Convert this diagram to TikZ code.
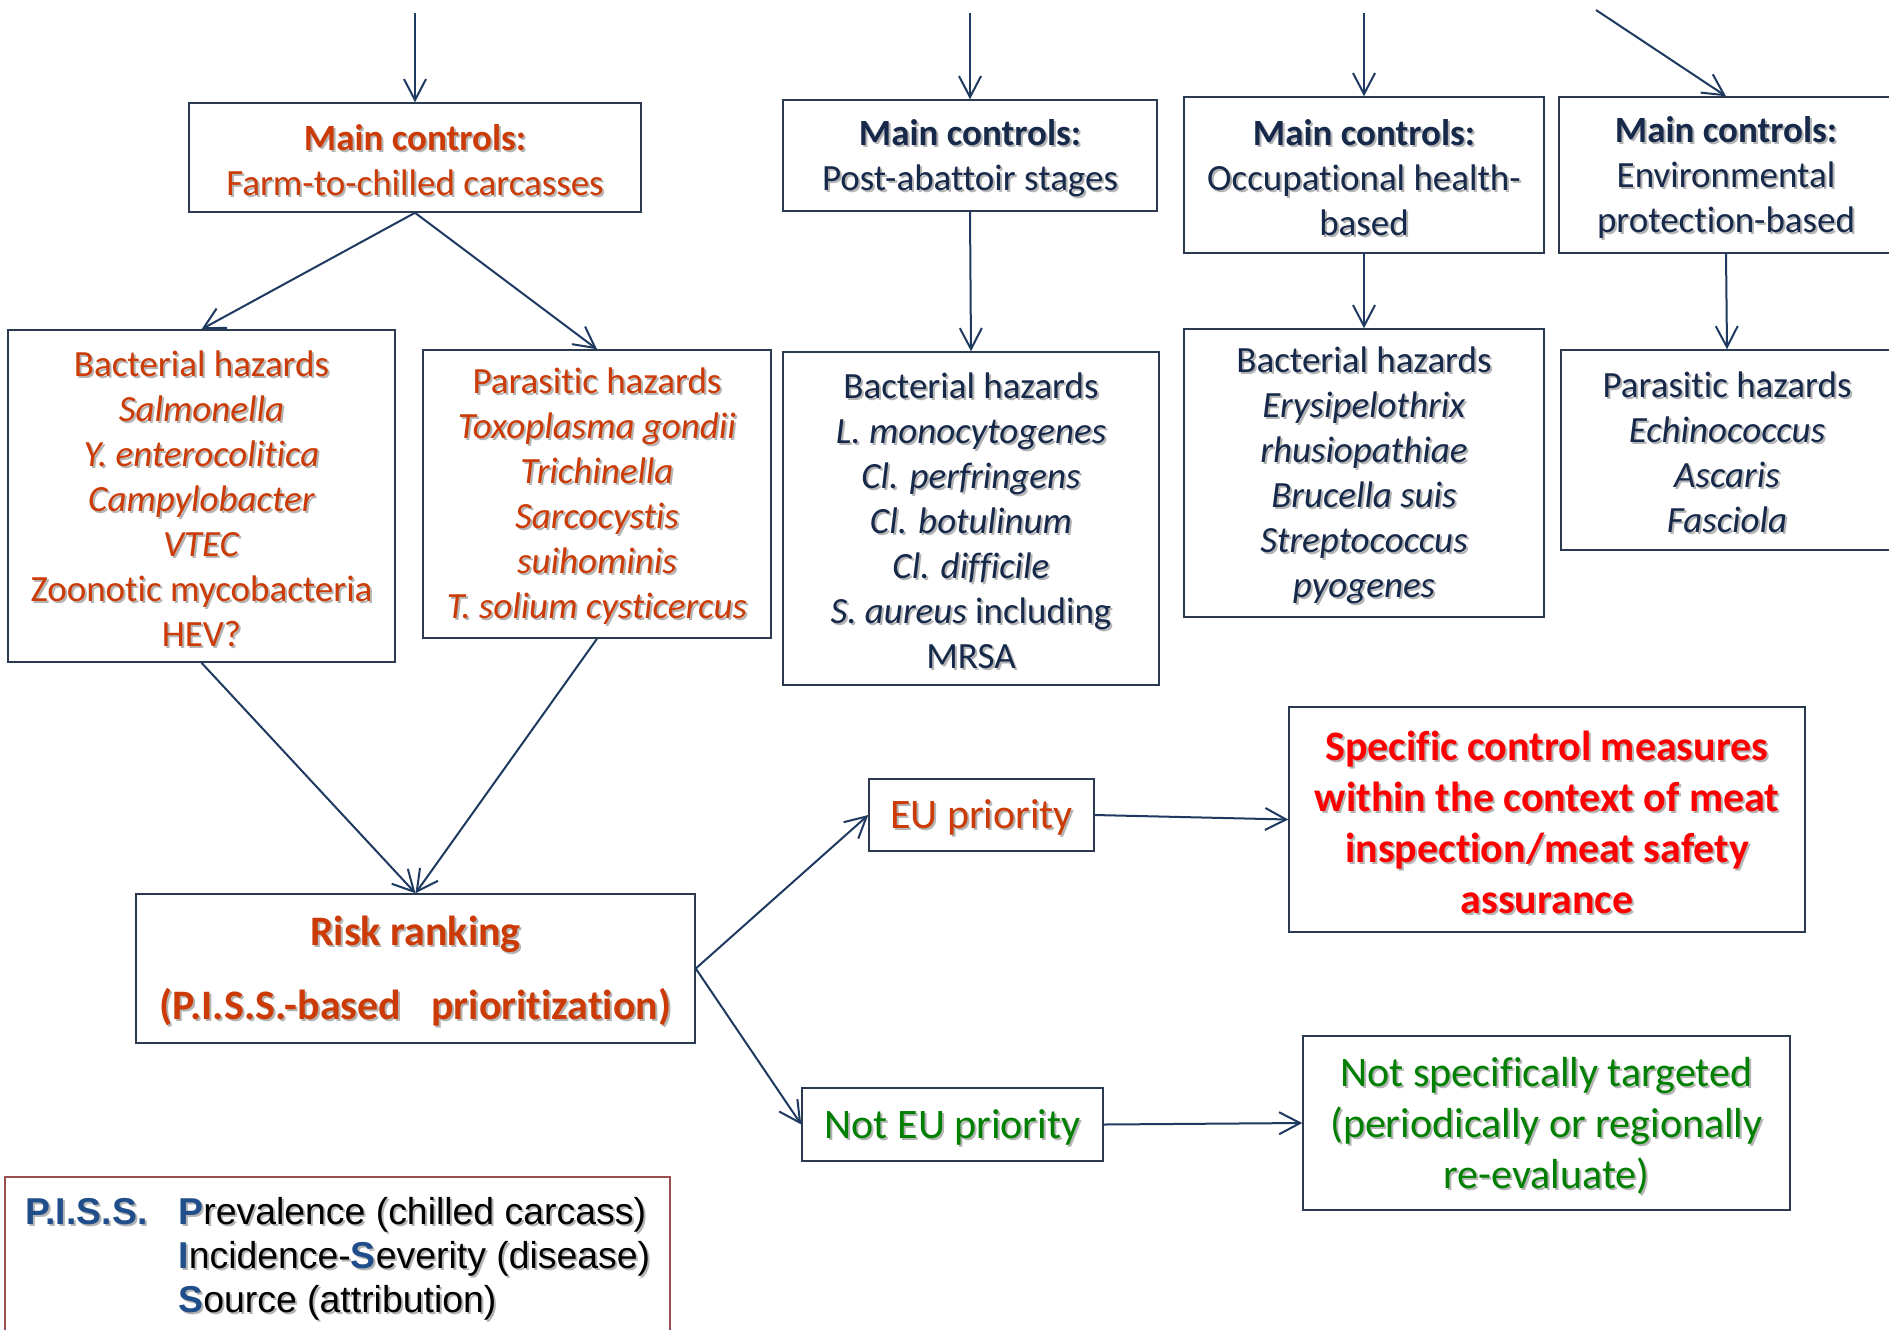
\documentclass[tikz,border=0pt]{standalone}
\usepackage{fontspec}
\setmainfont[Ligatures={NoCommon}]{Carlito}
\newfontfamily\arialfont{Liberation Sans}
\usetikzlibrary{arrows.meta}

\definecolor{hazorange}{HTML}{CC3A06}
\definecolor{navytxt}{HTML}{17294A}
\definecolor{okgreen}{HTML}{008000}
\definecolor{alertred}{HTML}{FF0000}
\definecolor{pissblue}{HTML}{1F4E8A}
\definecolor{arrowcol}{HTML}{1F3A60}
\definecolor{boxline}{HTML}{2B3A50}
\definecolor{pissline}{HTML}{9A5050}
\definecolor{shadowgray}{HTML}{B4B4B4}

% soft drop shadow behind a line of text; the ink sits slightly low in its box
\newif\ifshadow
\newlength\textdrop
\setlength\textdrop{1.8pt}
\newcommand\sh[1]{\raisebox{-\textdrop}[\height][\depth]{%
  \makebox[0pt][l]{\shadowtrue\hspace{1pt}\raisebox{-1pt}{\color{shadowgray}#1}}#1}}
% highlighted initial letter of the P.I.S.S. legend
\newcommand\hl[1]{{\ifshadow\else\color{pissblue}\fi\bfseries #1}}

\tikzset{
  box/.style={draw=boxline, line width=0.75pt, align=center, inner sep=0pt,
              font=\fontsize{18.5}{22.5}\selectfont},
  bigbox/.style={box, font=\fontsize{21}{25.5}\selectfont},
  conn/.style={draw=arrowcol, line width=1pt,
               -{Straight Barb[length=10.5pt,width=11pt,line width=1pt]}},
  legend/.style={inner sep=0pt, anchor=base west,
                 font=\arialfont\fontsize{18.7}{22}\selectfont},
}

\begin{document}
\begin{tikzpicture}[x=0.5pt,y=-0.5pt]
\useasboundingbox (0,0) rectangle (1889,1329);
\clip (0,0) rectangle (1889,1329);
\fill[white] (0,0) rectangle (1889,1329);

% --- main control boxes ---
\node[box, text=hazorange, minimum width=226pt, minimum height=54.5pt] (mcFarm) at (415,157.5)
  {\sh{\textbf{Main controls:}}\\ \sh{Farm-to-chilled carcasses}};
\node[box, text=navytxt, minimum width=187pt, minimum height=55.5pt] (mcPost) at (970,155.5)
  {\sh{\textbf{Main controls:}}\\ \sh{Post-abattoir stages}};
\node[box, text=navytxt, minimum width=180pt, minimum height=78pt] (mcOcc) at (1364,175)
  {\sh{\textbf{Main controls:}}\\ \sh{Occupational health-}\\ \sh{based}};
\node[box, text=navytxt, minimum width=167pt, minimum height=78pt] (mcEnv) at (1726,175)
  {\sh{\textbf{Main controls:}}\\ \sh{Environmental}\\ \sh{protection-based}};

% --- hazard boxes ---
\node[box, text=hazorange, minimum width=193.5pt, minimum height=166pt] (bactL) at (201.5,496)
  {\sh{Bacterial hazards}\\ \sh{\textit{Salmonella}}\\ \sh{\textit{Y. enterocolitica}}\\
   \sh{\textit{Campylobacter}}\\ \sh{\textit{VTEC}}\\ \sh{Zoonotic mycobacteria}\\ \sh{HEV?}};
\node[box, text=hazorange, minimum width=174pt, minimum height=144pt] (parL) at (597,494)
  {\sh{Parasitic hazards}\\ \sh{\textit{Toxoplasma gondii}}\\ \sh{\textit{Trichinella}}\\
   \sh{\textit{Sarcocystis}}\\ \sh{\textit{suihominis}}\\ \sh{\textit{T. solium cysticercus}}};
\node[box, text=navytxt, minimum width=188pt, minimum height=166.5pt] (bactPost) at (971,518.5)
  {\sh{Bacterial hazards}\\ \sh{\textit{L. monocytogenes}}\\ \sh{\textit{Cl. perfringens}}\\
   \sh{\textit{Cl. botulinum}}\\ \sh{\textit{Cl. difficile}}\\ \sh{\textit{S. aureus} including}\\ \sh{MRSA}};
\node[box, text=navytxt, minimum width=180pt, minimum height=144pt] (bactOcc) at (1364,473)
  {\sh{Bacterial hazards}\\ \sh{\textit{Erysipelothrix}}\\ \sh{\textit{rhusiopathiae}}\\
   \sh{\textit{Brucella suis}}\\ \sh{\textit{Streptococcus}}\\ \sh{\textit{pyogenes}}};
\node[box, text=navytxt, minimum width=166pt, minimum height=100pt] (parEnv) at (1727,450)
  {\sh{Parasitic hazards}\\ \sh{\textit{Echinococcus}}\\ \sh{\textit{Ascaris}}\\ \sh{\textit{Fasciola}}};

% --- ranking and outcomes ---
\node[box, text=hazorange, font=\bfseries\fontsize{21}{37}\selectfont,
      minimum width=279.5pt, minimum height=74.5pt] (risk) at (415.5,968.5)
  {\sh{Risk ranking}\\ \sh{(P.I.S.S.-based\hspace{15pt}prioritization)}};
\node[bigbox, text=hazorange, minimum width=112.5pt, minimum height=36pt] (eu) at (981.5,815)
  {\sh{EU priority}};
\node[bigbox, text=okgreen, minimum width=150.5pt, minimum height=36.5pt] (noteu) at (952.5,1124.5)
  {\sh{Not EU priority}};
\node[bigbox, text=alertred, font=\bfseries\fontsize{21}{25.5}\selectfont,
      minimum width=258pt, minimum height=112.5pt] (spec) at (1547,819.5)
  {\sh{Specific control measures}\\ \sh{within the context of meat}\\
   \sh{inspection/meat safety}\\ \sh{assurance}};
\node[bigbox, text=okgreen, minimum width=243.5pt, minimum height=87pt] (notspec) at (1546.5,1123)
  {\sh{Not specifically targeted}\\ \sh{(periodically or regionally}\\ \sh{re-evaluate)}};

% --- P.I.S.S. legend ---
\node[draw=pissline, line width=0.8pt, inner sep=0pt,
      minimum width=332.5pt, minimum height=84pt] (piss) at (337.5,1261) {};
\node[legend, text=pissblue] (pisslbl) at (25,1221) {\sh{\textbf{P.I.S.S.}}};
\node[legend] (pissP) at (178,1221) {\sh{\hl{P}revalence (chilled carcass)}};
\node[legend] (pissI) at (178,1265) {\sh{\hl{I}ncidence-\hl{S}everity (disease)}};
\node[legend] (pissS) at (178,1309) {\sh{\hl{S}ource (attribution)}};

% --- incoming arrows from above ---
\coordinate (in1) at (415,13);
\coordinate (in2) at (970,13);
\coordinate (in3) at (1364,13);
\coordinate (in4) at (1596,10);
\draw[conn] (in1) -- (mcFarm.north);
\draw[conn] (in2) -- (mcPost.north);
\draw[conn] (in3) -- (mcOcc.north);
\draw[conn] (in4) -- (mcEnv.north);

% --- controls to hazards ---
\draw[conn] (mcFarm.south) -- (bactL.north);
\draw[conn] (mcFarm.south) -- (parL.north);
\draw[conn] (mcPost.south) -- (bactPost.north);
\draw[conn] (mcOcc.south) -- (bactOcc.north);
\draw[conn] (mcEnv.south) -- (parEnv.north);

% --- hazards to ranking and outcomes ---
\draw[conn] (bactL.south) -- (risk.north);
\draw[conn] (parL.south) -- (risk.north);
\draw[conn] (risk.east) -- (eu.west);
\draw[conn] (risk.east) -- (noteu.west);
\draw[conn] (eu.east) -- (spec.west);
\draw[conn] (noteu.east) -- (notspec.west);
\end{tikzpicture}
\end{document}
